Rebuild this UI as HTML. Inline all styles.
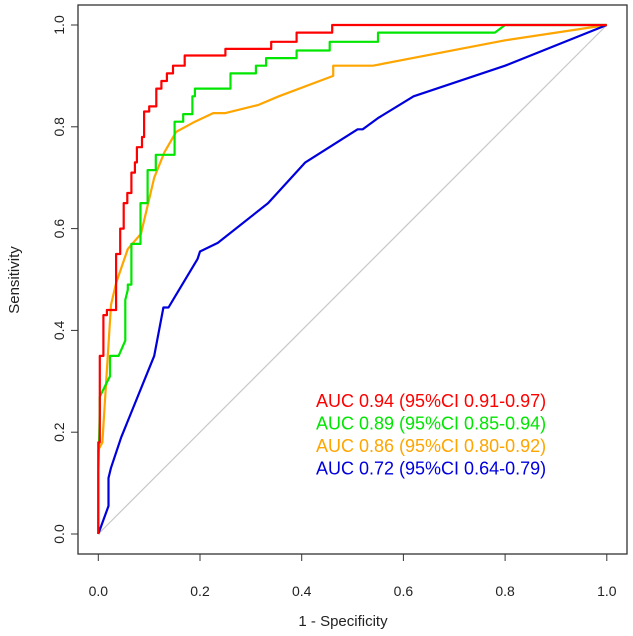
<!DOCTYPE html>
<html><head><meta charset="utf-8"><style>
body{margin:0;background:#fff}
svg{display:block;font-family:"Liberation Sans",Arial,sans-serif}
</style></head><body>
<svg id="c" width="633" height="636"></svg>
<script>
const xTicks=[0,0.2,0.4,0.6,0.8,1.0];
const yTicks=[0,0.2,0.4,0.6,0.8,1.0];
const tickLabels=["0.0","0.2","0.4","0.6","0.8","1.0"];
const redFpr=[0,0,0.003,0.003,0.01,0.01,0.017,0.017,0.035,0.035,0.043,0.043,0.05,0.05,0.057,0.057,0.065,0.065,0.072,0.072,0.076,0.076,0.086,0.086,0.09,0.09,0.10,0.10,0.114,0.114,0.124,0.124,0.135,0.135,0.147,0.147,0.17,0.17,0.25,0.25,0.34,0.34,0.39,0.39,0.46,0.46,0.78,1];
const redTpr=[0,0.18,0.18,0.35,0.35,0.43,0.43,0.44,0.44,0.55,0.55,0.60,0.60,0.65,0.65,0.67,0.67,0.71,0.71,0.73,0.73,0.76,0.76,0.78,0.78,0.83,0.83,0.84,0.84,0.875,0.875,0.89,0.89,0.905,0.905,0.92,0.92,0.94,0.94,0.953,0.953,0.967,0.967,0.985,0.985,1,1,1];
const greenFpr=[0,0,0.003,0.003,0.023,0.023,0.04,0.053,0.053,0.058,0.058,0.065,0.065,0.083,0.083,0.097,0.097,0.113,0.113,0.15,0.15,0.167,0.167,0.185,0.185,0.19,0.19,0.26,0.26,0.31,0.31,0.33,0.33,0.39,0.39,0.455,0.455,0.55,0.55,0.78,0.8,1];
const greenTpr=[0,0.12,0.24,0.27,0.31,0.35,0.35,0.38,0.46,0.48,0.49,0.49,0.57,0.57,0.65,0.65,0.715,0.715,0.745,0.745,0.81,0.81,0.825,0.825,0.86,0.86,0.875,0.875,0.905,0.905,0.92,0.92,0.935,0.935,0.95,0.95,0.967,0.967,0.985,0.985,1,1];
const orangeFpr=[0,0,0.008,0.013,0.025,0.035,0.058,0.084,0.11,0.13,0.153,0.19,0.226,0.25,0.315,0.355,0.462,0.462,0.54,0.8,1];
const orangeTpr=[0,0.165,0.18,0.26,0.45,0.493,0.56,0.59,0.70,0.75,0.79,0.81,0.827,0.827,0.843,0.86,0.90,0.92,0.92,0.97,1];
const blueFpr=[0,0.02,0.02,0.025,0.045,0.11,0.128,0.138,0.147,0.195,0.2,0.235,0.334,0.407,0.51,0.52,0.55,0.62,0.8,1];
const blueTpr=[0,0.055,0.11,0.13,0.19,0.35,0.445,0.445,0.46,0.54,0.555,0.572,0.65,0.73,0.795,0.795,0.817,0.86,0.92,1];
const legendLabels=["AUC 0.94 (95%CI 0.91-0.97)","AUC 0.89 (95%CI 0.85-0.94)","AUC 0.86 (95%CI 0.80-0.92)","AUC 0.72 (95%CI 0.64-0.79)"];
const legendColors=["#ff0000","#00e600","#ffa500","#0000dd"];

const svg=document.getElementById('c');const NS='http://www.w3.org/2000/svg';
const X=v=>98.3+v*508.5, Y=v=>534-v*509;
function mk(t,a,p){const e=document.createElementNS(NS,t);for(const k in a)e.setAttribute(k,a[k]);(p||svg).appendChild(e);return e;}
const box=mk('rect',{x:78,y:5,width:549,height:549,fill:'none',stroke:'#333','stroke-width':1.3});


const diag=mk('line',{x1:X(0),y1:Y(0),x2:X(1),y2:Y(1),stroke:'#c8c8c8','stroke-width':1.2});


mk('line',{x1:X(0),y1:554,x2:X(1),y2:554,stroke:'#333'});
mk('line',{x1:78,y1:Y(0),x2:78,y2:Y(1),stroke:'#333'});
xTicks.forEach((v,i)=>{
  mk('line',{x1:X(v),y1:554,x2:X(v),y2:561,stroke:'#333'});
  const t=mk('text',{x:X(v),y:596,'text-anchor':'middle','font-size':14,fill:'#222'});t.textContent=tickLabels[i];
  
  
});
yTicks.forEach((v,i)=>{
  mk('line',{x1:71,y1:Y(v),x2:78,y2:Y(v),stroke:'#333'});
  const t=mk('text',{x:0,y:0,'text-anchor':'middle','font-size':14,fill:'#222',transform:`translate(64,${Y(v)}) rotate(-90)`});t.textContent=tickLabels[i];
  
  
});
const xt=mk('text',{x:343,y:626,'text-anchor':'middle','font-size':15,fill:'#222'});xt.textContent='1 - Specificity';


const yt=mk('text',{x:0,y:0,'text-anchor':'middle','font-size':15,fill:'#222',transform:'translate(19,280) rotate(-90)'});yt.textContent='Sensitivity';


const series=[[orangeFpr,orangeTpr,2,'orange-roc-curve'],[blueFpr,blueTpr,3,'blue-roc-curve'],[greenFpr,greenTpr,1,'green-roc-curve'],[redFpr,redTpr,0,'red-roc-curve']];
series.forEach(s=>{
  const d=s[0].map((f,i)=>(i?'L':'M')+X(f).toFixed(1)+','+Y(s[1][i]).toFixed(1)).join('');
  const p=mk('path',{d:d,fill:'none',stroke:legendColors[s[2]],'stroke-width':2.2,'stroke-linejoin':'round'});
  
  
});
legendLabels.forEach((l,i)=>{
  const t=mk('text',{x:316,y:407+i*22.5,'font-size':18,fill:legendColors[i]});t.textContent=l;
  
  
});
</script>
</body></html>
